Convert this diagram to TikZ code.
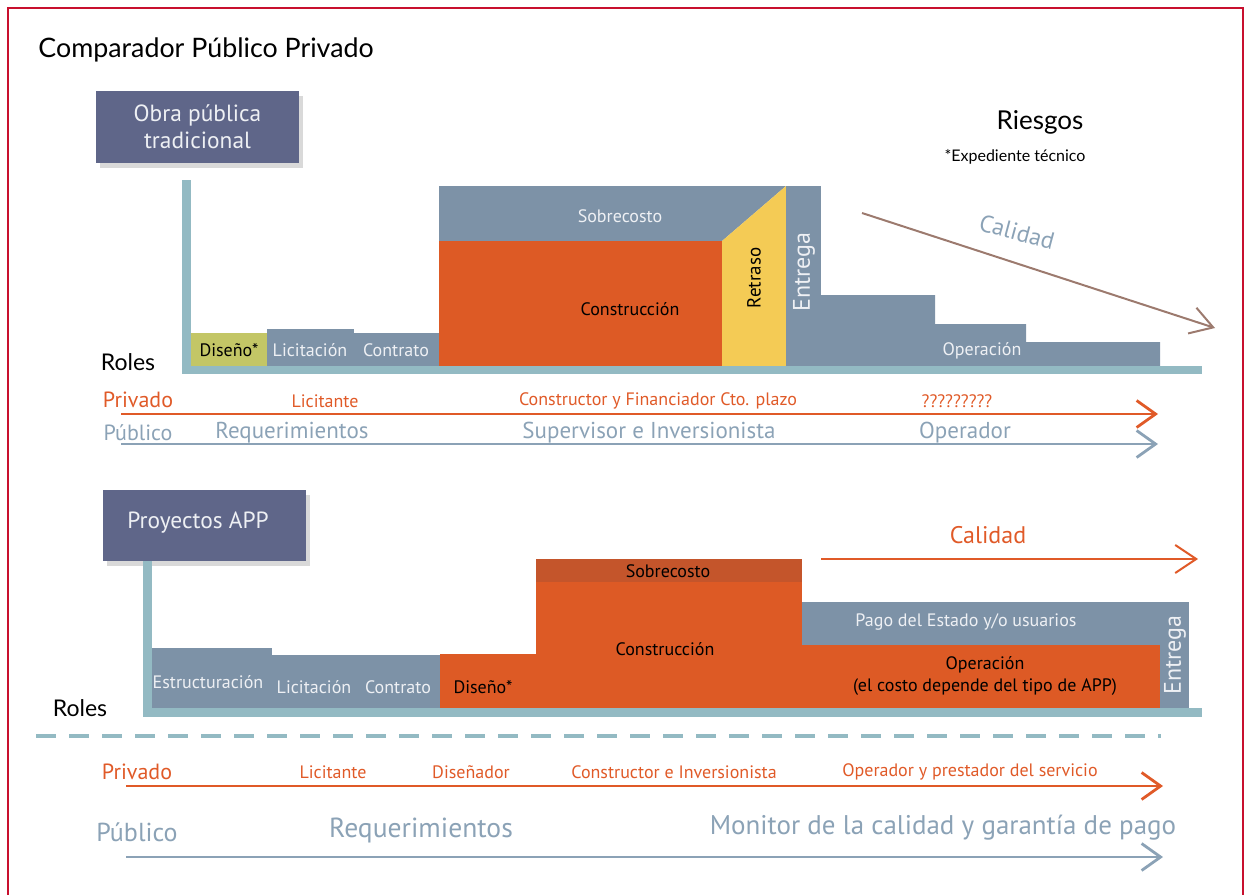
\documentclass[tikz,border=0pt]{standalone}
\usepackage{fontspec}
\setmainfont{PT Sans}
\newfontfamily\latofont{Lato}
\usetikzlibrary{arrows.meta,shadows}
\definecolor{cborder}{HTML}{C8102E}
\definecolor{cdark}{HTML}{5F6689}
\definecolor{cgray}{HTML}{7D92A7}
\definecolor{corange}{HTML}{DD5A25}
\definecolor{corange2}{HTML}{C4552B}
\definecolor{cyellow}{HTML}{F4CB55}
\definecolor{cgreen}{HTML}{C3C666}
\definecolor{caxis}{HTML}{93BAC3}
\definecolor{ctxtw}{HTML}{EEF0F4}
\definecolor{crow}{HTML}{E05A28}
\definecolor{cblue}{HTML}{8BA2B6}
\definecolor{cbrown}{HTML}{9C7A6E}
\newcommand\blk[6]{\node[#6, anchor=north west, minimum width={(#4-#2)*0.5pt}, minimum height={(#5-#3)*0.5pt}] (#1) at (#2,#3) {};}
\tikzset{
  blk/.style={inner sep=0pt, outer sep=0pt, draw=none},
  gblk/.style={blk, fill=cgray},
  oblk/.style={blk, fill=corange},
  titlebox/.style={blk, fill=cdark, drop shadow={opacity=0.3, shadow xshift=2pt, shadow yshift=-2.5pt}},
  wtxt/.style={text=ctxtw, font=\fontsize{9}{11}\selectfont, inner sep=0pt},
  btxt/.style={text=black, font=\fontsize{9}{11}\selectfont, inner sep=0pt},
  bigw/.style={text=ctxtw, font=\fontsize{11.7}{13.5}\selectfont, inner sep=0pt, align=center},
  lato/.style={text=black, inner sep=0pt, font=\latofont\fontsize{#1}{#1}\selectfont},
  otxt/.style={text=crow, inner sep=0pt, font=\fontsize{#1}{#1}\selectfont},
  ptxt/.style={text=cblue, inner sep=0pt, font=\fontsize{#1}{#1}\selectfont},
  roworange/.style={draw=crow, line width=1.4pt, -{Straight Barb[length=9.5pt,width=13.5pt]}},
  rowblue/.style={draw=cblue, line width=1.4pt, -{Straight Barb[length=9.5pt,width=13.5pt]}},
  axisbar/.style={fill=caxis, draw=none},
}
\begin{document}
\begin{tikzpicture}[x=0.5pt,y=-0.5pt]
\useasboundingbox (0,0) rectangle (1246,894);
% border
\draw[cborder, line width=1.4pt] (8,900) -- (8,8) -- (1243,8) -- (1243,900);
% title
\node[lato=13.4, anchor=west] (title) at (38,50) {Comparador Público Privado};

%%%%%%%% TOP PART %%%%%%%%
\blk{obra}{96}{91}{299}{163}{titlebox}
\node[bigw] (obratxt) at (obra.center) {Obra pública\\tradicional};

\blk{dis1}{191}{333}{267}{366}{blk, fill=cgreen}
\blk{lic1}{267}{329}{354}{366}{gblk}
\blk{con1}{354}{333}{439}{366}{gblk}
\fill[cgray] (439,186) -- (786,186) -- (722,241) -- (439,241) -- cycle;
\blk{cons1}{439}{241}{722}{366}{oblk}
\fill[cyellow] (722,241) -- (786,186) -- (786,366) -- (722,366) -- cycle;
\blk{ent1}{786}{186}{821}{366}{gblk}
\fill[cgray] (821,366) -- (821,295) -- (935,295) -- (935,324) -- (1026,324) -- (1026,342) -- (1160,342) -- (1160,366) -- cycle;
\path[axisbar] (182,180) rectangle (191,374);
\path[axisbar] (182,366) rectangle (1202,374);

\node[btxt] (dis1t) at (229,350) {Diseño*};
\node[wtxt] (lic1t) at (310,350) {Licitación};
\node[wtxt] (con1t) at (396,350) {Contrato};
\node[wtxt] (sob1t) at (620,216) {Sobrecosto};
\node[btxt] (cons1t) at (630,309) {Construcción};
\node[btxt, rotate=90, font=\fontsize{9.5}{11}\selectfont] (ret1t) at (754,278) {Retraso};
\node[wtxt, rotate=90, font=\fontsize{12}{12}\selectfont] (ent1t) at (804,272) {Entrega};
\node[wtxt] (op1t) at (982,351) {Operación};

\node[lato=11.5] (roles1) at (128,362) {Roles};
\node[lato=13] (riesgos) at (1040,122) {Riesgos};
\node[lato=8] (exped) at (1015,157) {*Expediente técnico};

\coordinate (cal1s) at (862,213);
\coordinate (cal1e) at (1215,328);
\draw[cbrown, line width=1pt, -{Straight Barb[length=11pt,width=13.5pt]}] (cal1s) -- (cal1e);
\node[ptxt=12, rotate=-15] (cal1t) at (1017,232) {Calidad};

% roles rows top
\node[otxt=11] (priv1) at (138,400) {Privado};
\node[otxt=9] (priv1a) at (325,401) {Licitante};
\node[otxt=9] (priv1b) at (658,401) {Constructor y Financiador Cto. plazo};
\node[otxt=9] (priv1c) at (957,401) {?????????};
\coordinate (pa1s) at (121,414);
\coordinate (pa1e) at (1158,414);
\draw[roworange] (pa1s) -- (pa1e);

\node[ptxt=11] (pub1) at (138,433) {Público};
\node[ptxt=11.5] (pub1a) at (292,433) {Requerimientos};
\node[ptxt=11.5] (pub1b) at (649,433) {Supervisor e Inversionista};
\node[ptxt=11.5] (pub1c) at (965,433) {Operador};
\coordinate (pb1s) at (121,444);
\coordinate (pb1e) at (1158,444);
\draw[rowblue] (pb1s) -- (pb1e);

%%%%%%%% BOTTOM PART %%%%%%%%
\blk{proy}{103}{490}{306}{561}{titlebox}
\node[bigw] (proytxt) at (198,523) {Proyectos APP};

\blk{est2}{152}{648}{272}{708}{gblk}
\blk{lic2}{272}{655}{357}{708}{gblk}
\blk{con2}{357}{655}{440}{708}{gblk}
\blk{dis2}{440}{654}{536}{708}{oblk}
\blk{sob2}{536}{559}{802}{582}{blk, fill=corange2}
\blk{cons2}{536}{582}{802}{708}{oblk}
\blk{pago}{802}{602}{1160}{645}{gblk}
\blk{op2}{802}{645}{1160}{708}{oblk}
\blk{ent2}{1160}{602}{1189}{708}{gblk}
\path[axisbar] (143,561) rectangle (152,717);
\path[axisbar] (143,708) rectangle (1202,717);

\node[wtxt] (est2t) at (208,682) {Estructuración};
\node[wtxt] (lic2t) at (314,687) {Licitación};
\node[wtxt] (con2t) at (398,687) {Contrato};
\node[btxt] (dis2t) at (483,687) {Diseño*};
\node[btxt] (sob2t) at (668,571) {Sobrecosto};
\node[btxt] (cons2t) at (665,649) {Construcción};
\node[wtxt] (pagot) at (966,622) {Pago del Estado y/o usuarios};
\node[btxt, align=center, font=\fontsize{9}{11}\selectfont] (op2t) at (985,676) {Operación\\(el costo depende del tipo de APP)};
\node[wtxt, rotate=90, font=\fontsize{12}{12}\selectfont] (ent2t) at (1175,655) {Entrega};

\node[lato=11.5] (roles2) at (80,708) {Roles};

\coordinate (cal2s) at (821,559);
\coordinate (cal2e) at (1198,559);
\draw[crow, line width=1pt, -{Straight Barb[length=10.5pt,width=14pt]}] (cal2s) -- (cal2e);
\node[otxt=12] (cal2t) at (988,535) {Calidad};

\coordinate (dsh1) at (36,736);
\coordinate (dsh2) at (1161,736);
\draw[caxis, line width=1.6pt, dash pattern=on 10pt off 6.5pt] (dsh1) -- (dsh2);

\node[otxt=11] (priv2) at (137,772) {Privado};
\node[otxt=9] (priv2a) at (333,772) {Licitante};
\node[otxt=9] (priv2b) at (471,772) {Diseñador};
\node[otxt=9] (priv2c) at (674,772) {Constructor e Inversionista};
\node[otxt=9] (priv2d) at (970,772) {Operador y prestador del servicio};
\coordinate (pa2s) at (126,786);
\coordinate (pa2e) at (1163,786);
\draw[roworange] (pa2s) -- (pa2e);

\node[ptxt=13] (pub2) at (137,832) {Público};
\node[ptxt=13.8] (pub2a) at (421,830) {Requerimientos};
\node[ptxt=13.5] (pub2b) at (943,828) {Monitor de la calidad y garantía de pago};
\coordinate (pb2s) at (126,857);
\coordinate (pb2e) at (1163,857);
\draw[rowblue] (pb2s) -- (pb2e);
\end{tikzpicture}
\end{document}
